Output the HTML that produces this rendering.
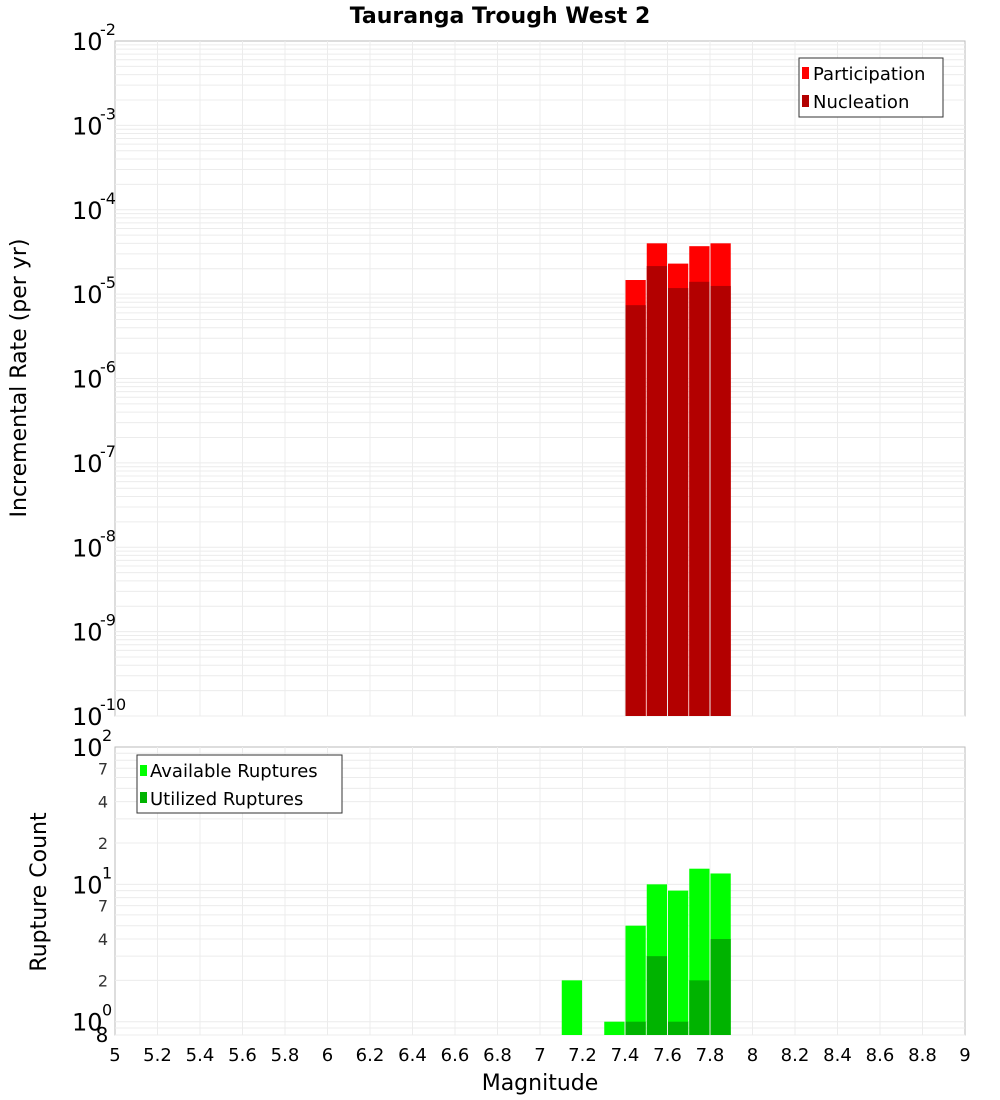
<!DOCTYPE html>
<html><head><meta charset="utf-8"><style>body{margin:0;background:#fff}svg{display:block;font-family:"DejaVu Sans","Liberation Sans",sans-serif}</style></head>
<body>
<svg id="c" width="1000" height="1100"></svg>
<script>
const bins=[7.1,7.2,7.3,7.4,7.5,7.6,7.7,7.8];
const partMags=[7.4,7.5,7.6,7.7,7.8];
const participation=[1.47e-5,4.0e-5,2.3e-5,3.7e-5,4.0e-5];
const nucleation=[7.4e-6,2.15e-5,1.18e-5,1.4e-5,1.25e-5];
const countMags=[7.1,7.3,7.4,7.5,7.6,7.7,7.8];
const available=[2,1,5,10,9,13,12];
const utilizedMags=[7.4,7.5,7.6,7.7,7.8];
const utilized=[1,3,1,2,4];
const xTicks=[5,5.2,5.4,5.6,5.8,6,6.2,6.4,6.6,6.8,7,7.2,7.4,7.6,7.8,8,8.2,8.4,8.6,8.8,9];
const topExps=[-2,-3,-4,-5,-6,-7,-8,-9,-10];
const botMinor=[7,4,2];

const NS='http://www.w3.org/2000/svg',svg=document.getElementById('c');
function el(t,a,txt){const e=document.createElementNS(NS,t);for(const k in a)e.setAttribute(k,a[k]);if(txt!==undefined)e.textContent=txt;svg.appendChild(e);return e;}
const X0=115,X1=965;
const x=m=>X0+(m-5)/4*(X1-X0);
const T0=41,T1=716;
const yT=v=>T0+(-2-Math.log10(v))/8*(T1-T0);
const B0=747,B1=1035,bLo=Math.log10(0.8);
const yB=v=>B1-(Math.log10(v)-bLo)/(2-bLo)*(B1-B0);

// frames
let r=el('rect',{x:X0,y:T0,width:X1-X0,height:T1-T0,fill:'#fff',stroke:'#bbb'});

r=el('rect',{x:X0,y:B0,width:X1-X0,height:B1-B0,fill:'#fff',stroke:'#bbb'});

// grids
for(let i=1;i<xTicks.length-1;i++){
 el('line',{x1:x(xTicks[i]),x2:x(xTicks[i]),y1:T0,y2:T1,stroke:'#ececec'});
 el('line',{x1:x(xTicks[i]),x2:x(xTicks[i]),y1:B0,y2:B1,stroke:'#ececec'});
}
for(let e=-10;e<-2;e++)for(let k=1;k<10;k++){const yy=yT(k*Math.pow(10,e));el('line',{x1:X0,x2:X1,y1:yy,y2:yy,stroke:'#ececec'});}
for(let e=-1;e<2;e++)for(let k=1;k<10;k++){const v=k*Math.pow(10,e);if(v<0.8)continue;const yy=yB(v);el('line',{x1:X0,x2:X1,y1:yy,y2:yy,stroke:'#ececec'});}
// top bars
const bw=x(5.1)-x(5)-1;
partMags.forEach((m,i)=>{let b=el('rect',{x:x(m)+0.5,y:yT(participation[i]),width:bw,height:T1-yT(participation[i]),fill:'#ff0000'});
 });
partMags.forEach((m,i)=>{let b=el('rect',{x:x(m)+0.5,y:yT(nucleation[i]),width:bw,height:T1-yT(nucleation[i]),fill:'#b30000'});
 });
countMags.forEach((m,i)=>{let b=el('rect',{x:x(m)+0.5,y:yB(available[i]),width:bw,height:B1-yB(available[i]),fill:'#00ff00'});
 });
utilizedMags.forEach((m,i)=>{let b=el('rect',{x:x(m)+0.5,y:yB(utilized[i]),width:bw,height:B1-yB(utilized[i]),fill:'#00b300'});
 });
// top y labels
topExps.forEach(e=>{const yy=yT(Math.pow(10,e));
 let t=el('text',{x:72,y:yy+9,'font-size':24,fill:'#000'},'10');
 el('text',{x:100,y:yy-6,'font-size':16},String(e));});
// bottom y labels
[0,1,2].forEach(e=>{const yy=yB(Math.pow(10,e));
 let t=el('text',{x:72,y:yy+9,'font-size':24},'10');
 el('text',{x:102,y:yy-6,'font-size':16},String(e));});
[1,10].forEach(d=>botMinor.forEach(k=>{el('text',{x:103,y:yB(k*d)+6,'font-size':16,fill:'#333','text-anchor':'middle'},String(k));}));
el('text',{x:102,y:yB(0.8)+7,'font-size':20,'text-anchor':'middle'},'8');
// x labels
xTicks.forEach(v=>{let t=el('text',{x:x(v),y:1061,'font-size':18,'text-anchor':'middle'},String(v));});
let t=el('text',{x:540,y:1090,'font-size':22,'text-anchor':'middle'},'Magnitude');
t=el('text',{x:0,y:0,'font-size':22,'text-anchor':'middle',transform:'translate(26,378) rotate(-90)'},'Incremental Rate (per yr)');
t=el('text',{x:0,y:0,'font-size':22,'text-anchor':'middle',transform:'translate(46,892) rotate(-90)'},'Rupture Count');
t=el('text',{x:500,y:23,'font-size':22,'font-weight':'bold','text-anchor':'middle'},'Tauranga Trough West 2');
// legends
r=el('rect',{x:799,y:58,width:144,height:59,fill:'#fff',stroke:'#333'});
el('rect',{x:802,y:67,width:7,height:12,fill:'#ff0000'});el('text',{x:813,y:80,'font-size':18},'Participation');
el('rect',{x:802,y:95,width:7,height:12,fill:'#b30000'});el('text',{x:813,y:108,'font-size':18},'Nucleation');
r=el('rect',{x:137,y:755,width:205,height:58,fill:'#fff',stroke:'#333'});
el('rect',{x:140,y:765,width:7,height:11,fill:'#00ff00'});el('text',{x:150,y:777,'font-size':18},'Available Ruptures');
el('rect',{x:140,y:792,width:7,height:11,fill:'#00b300'});el('text',{x:150,y:805,'font-size':18},'Utilized Ruptures');
</script>
</body></html>
